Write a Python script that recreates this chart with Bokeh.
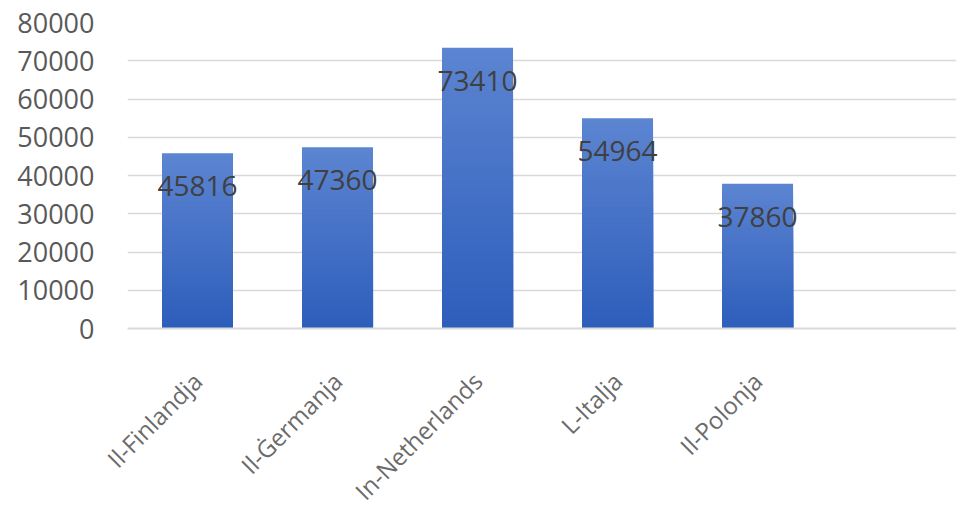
import numpy as np
from bokeh.plotting import figure
from bokeh.models import Range1d, FixedTicker, ColumnDataSource
from bokeh.embed import file_html
from bokeh.resources import INLINE
from bokeh.core.properties import value

categories = ["Il-Finlandja", "Il-Ġermanja", "In-Netherlands", "L-Italja", "Il-Polonja"]
values = [45816, 47360, 73410, 54964, 37860]
y_ticks = [0, 10000, 20000, 30000, 40000, 50000, 60000, 70000, 80000]

FONT = "Open Sans"
x_pos = [i + 0.5 for i in range(len(categories))]

p = figure(frame_width=829, frame_height=306, output_backend="svg", toolbar_location=None,
           x_range=Range1d(0, 5.921), y_range=Range1d(0, 80000),
           min_border_left=127, min_border_top=22, min_border_right=0, min_border_bottom=10)
p.outline_line_color = None
p.background_fill_color = "white"
p.border_fill_color = "white"

# gradient bars: nested rectangles from the base, tallest (lightest) drawn first
N = 40
top_c = np.array([0x5C, 0x84, 0xD1])
bot_c = np.array([0x2D, 0x5E, 0xBB])
xs, tops, cols = [], [], []
for i in reversed(range(N)):
    c = bot_c + (top_c - bot_c) * (i + 0.5) / N
    col = "#%02x%02x%02x" % tuple(int(round(t)) for t in c)
    for x, v in zip(x_pos, values):
        xs.append(x); tops.append(v * (i + 1) / N); cols.append(col)
src = ColumnDataSource(dict(x=xs, top=tops, color=cols))
p.vbar(x="x", bottom=0, top="top", width=0.507, source=src,
       fill_color="color", line_color=None)

lab = ColumnDataSource(dict(x=x_pos, y=values, t=[str(v) for v in values]))
p.text(x="x", y="y", text="t", source=lab, text_font=value(FONT), text_font_size="28px",
       text_color="#404040", text_align="center", text_baseline="middle", y_offset=33)

p.xaxis.ticker = FixedTicker(ticks=x_pos)
p.xaxis.major_label_overrides = {x: c for x, c in zip(x_pos, categories)}
p.xaxis.major_label_orientation = np.pi / 4
p.xaxis.major_label_text_font = FONT
p.xaxis.major_label_text_font_size = "24px"
p.xaxis.major_label_text_color = "#6b6b6b"
p.xaxis.major_label_standoff = 42
p.xaxis.axis_line_color = "#d9d9d9"
p.xaxis.axis_line_width = 2
p.xaxis.major_tick_line_color = None
p.xaxis.minor_tick_line_color = None

p.yaxis.ticker = FixedTicker(ticks=y_ticks)
p.yaxis.major_label_text_font = FONT
p.yaxis.major_label_text_font_size = "27px"
p.yaxis.major_label_text_color = "#595959"
p.yaxis.major_label_standoff = 27
p.yaxis.axis_line_color = None
p.yaxis.major_tick_line_color = None
p.yaxis.minor_tick_line_color = None

p.xgrid.grid_line_color = None
p.ygrid.grid_line_color = "#d9d9d9"
p.ygrid.grid_line_width = 1.5

open("out.html", "w").write(file_html(p, INLINE))
